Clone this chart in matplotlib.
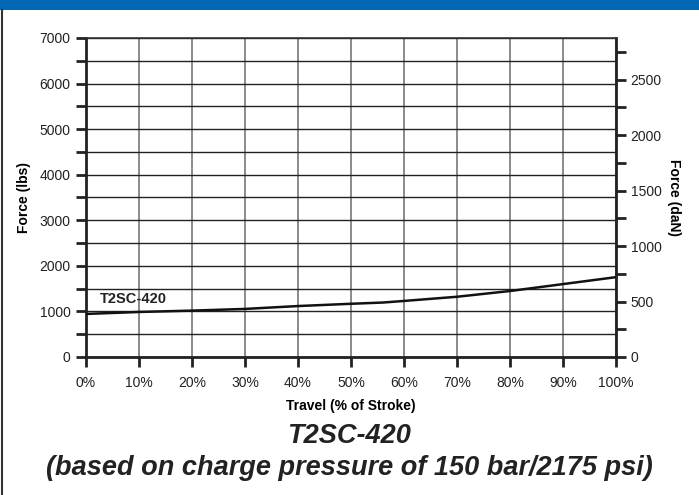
import matplotlib.pyplot as plt
from matplotlib.ticker import MultipleLocator, FuncFormatter
from matplotlib.patches import Rectangle
from matplotlib.lines import Line2D

plt.rcParams['font.family'] = ['Liberation Sans', 'DejaVu Sans']

# === Dati ===
travel_pct = [0, 10, 20, 30, 40, 50, 56, 60, 70, 80, 90, 100]
force_lbs = [945, 988, 1018, 1055, 1118, 1168, 1195, 1230, 1322, 1448, 1600, 1752]
curve_label = "T2SC-420"
titolo = "T2SC-420"
sottotitolo = "(based on charge pressure of 150 bar/2175 psi)"

fig = plt.figure(figsize=(6.99, 4.95), dpi=100)
W, H = 699, 495
ax = fig.add_axes([86 / W, 1 - 357 / H, (616 - 86) / W, (357 - 38) / H])

ax.plot(travel_pct, force_lbs, color='#111111', linewidth=1.8, zorder=3)
ax.text(2.6, 1275, curve_label, fontsize=10.5, fontweight='bold', color='#222222',
        va='center')

ax.set_xlim(0, 100)
ax.set_ylim(0, 7000)
ax.xaxis.set_major_locator(MultipleLocator(10))
ax.xaxis.set_major_formatter(FuncFormatter(lambda v, p: f"{int(v)}%"))
ax.yaxis.set_major_locator(MultipleLocator(1000))
ax.yaxis.set_minor_locator(MultipleLocator(500))

ax.grid(True, axis='x', which='major', color='#777777', linewidth=1.2)
ax.grid(True, axis='y', which='both', color='#222222', linewidth=1.0)

for s in ['left', 'bottom', 'right']:
    ax.spines[s].set_linewidth(2)
    ax.spines[s].set_color('#222222')
ax.spines['top'].set_linewidth(1.2)
ax.spines['top'].set_color('#333333')

ax.tick_params(axis='both', which='both', direction='out', length=7, width=2,
               color='#222222', labelsize=10, labelcolor='#222222')
ax.tick_params(axis='y', which='major', pad=4)
ax.tick_params(axis='x', pad=7)

ax.set_ylabel("Force (lbs)", fontsize=10, fontweight='bold', labelpad=6)
ax.set_xlabel("Travel (% of Stroke)", fontsize=10, fontweight='bold', labelpad=6)

ax2 = ax.twinx()
ax2.set_ylim(0, 2875)
ax2.yaxis.set_major_locator(MultipleLocator(500))
ax2.yaxis.set_minor_locator(MultipleLocator(250))
ax2.tick_params(axis='y', which='both', direction='out', length=7, width=2,
                color='#222222', labelsize=10, labelcolor='#222222')
for s in ax2.spines.values():
    s.set_visible(False)
ax2.set_ylabel("Force (daN)", fontsize=10, fontweight='bold', rotation=270, labelpad=14)

# titolo
fig.text(0.5, 1 - 436 / H, titolo, ha='center', va='center', fontsize=19.5,
         fontweight='bold', style='italic', color='#222222')
fig.text(0.5, 1 - 468 / H, sottotitolo, ha='center', va='center', fontsize=19.5,
         fontweight='bold', style='italic', color='#222222')

# barra blu e bordo
fig.patches.append(Rectangle((0, 1 - 10 / H), 1, 10 / H, transform=fig.transFigure,
                             facecolor='#0068b4', edgecolor='none'))
fig.lines.append(Line2D([1.5 / W, 1.5 / W], [0, 1 - 10 / H], transform=fig.transFigure,
                        color='#333333', linewidth=1.5))

fig.savefig("out.png", dpi=100)
